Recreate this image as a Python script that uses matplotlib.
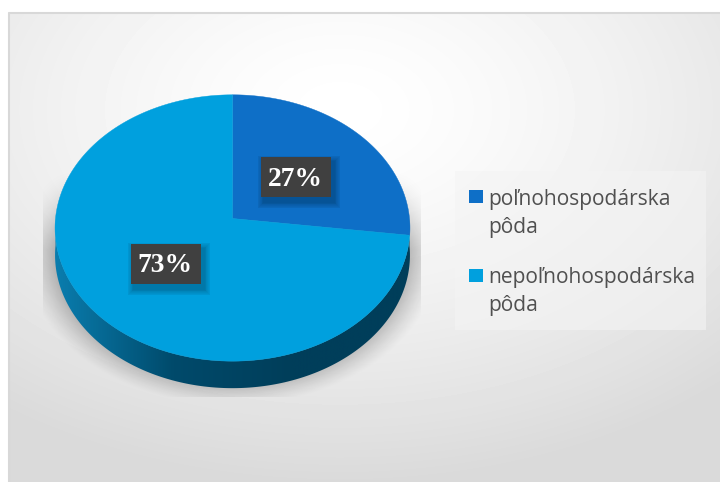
import numpy as np
import matplotlib
matplotlib.use("Agg")
import matplotlib.pyplot as plt
from matplotlib.patches import Polygon, Rectangle
from matplotlib.colors import LinearSegmentedColormap

# Donnees
categories = ["poľnohospodárska\npôda", "nepoľnohospodárska\npôda"]
parts = [27, 73]
couleurs = ["#0E6FC7", "#00A0DE"]
etiquettes = ["27%", "73%"]

# Geometrie de la tarte (pixels)
cx, cy = 232.5, 218.5
sx, sy = 177, 132.5
k = 0.0712
prof = 27


def projection(theta):
    # theta en degres, sens horaire depuis le haut, avec perspective
    t = np.radians(theta)
    w = 1 + k * np.cos(t)
    return cx + sx * np.sin(t) / w, cy - sy * np.cos(t) / w


fig = plt.figure(figsize=(7.2, 4.82), dpi=100)
ax = fig.add_axes([0, 0, 1, 1])
ax.set_xlim(0, 720)
ax.set_ylim(482, 0)
ax.axis("off")

# Fond degrade
X, Y = np.meshgrid(np.arange(720) + 0.5, np.arange(482) + 0.5)
d = np.sqrt(((X - 340) / 560) ** 2 + ((Y - 110) / 370) ** 2)
fond = 1 - 0.145 * np.clip(d, 0, 1) ** 1.4
ax.imshow(fond, extent=(0, 720, 482, 0), cmap="gray", vmin=0, vmax=1, zorder=0, aspect="auto")
ax.add_patch(Rectangle((0, 0), 720, 12, fc="white", ec="none", zorder=1))
ax.add_patch(Rectangle((0, 0), 8, 482, fc="white", ec="none", zorder=1))
ax.plot([9, 9, 720], [482, 12.5, 12.5], color="#D8D8D8", lw=1.5, zorder=1)

# Ombre sous la tarte
r = np.sqrt(((X - 232) / 210) ** 2 + ((Y - 250) / 156) ** 2)
alpha = 0.34 * np.clip((1.0 - r) / 0.2, 0, 1) ** 1.3
alpha = alpha * np.clip((Y - 170) / 80, 0, 1)
alpha[(X < 43) | (X > 421) | (Y > 397)] = 0
ombre = np.zeros((482, 720, 4))
ombre[..., 3] = alpha
ax.imshow(ombre, extent=(0, 720, 482, 0), zorder=2, aspect="auto")

# Cote de la tarte
angles = np.linspace(90, 270, 200)
bx, by = projection(angles)
contour = np.column_stack([np.r_[bx, bx[::-1]], np.r_[by + prof, by[::-1]]])
cmap_cote = LinearSegmentedColormap.from_list("cote", ["#0A7DAE", "#004A6B", "#003E5A", "#003E5A"])
grad = np.clip((np.linspace(55, 410, 400) - 55) / 355, 0, 1)[None, :]
im = ax.imshow(grad, extent=(55, 410, 400, 200), cmap=cmap_cote, zorder=3, aspect="auto")
cote = Polygon(contour, closed=True, fc="none", ec="none", zorder=3)
ax.add_patch(cote)
im.set_clip_path(cote)
ax.set_xlim(0, 720)
ax.set_ylim(482, 0)

# Parts
debut = 0
for part, coul in zip(parts, couleurs):
    fin = debut + 360 * part / sum(parts)
    a = np.linspace(debut, fin, 300)
    px, py = projection(a)
    ax.fill(np.r_[cx, px], np.r_[cy, py], color=coul, lw=0.3, zorder=4)
    debut = fin

# Etiquettes
pos_etiquettes = [(296, 177), (166, 264)]
for txt, (x, y) in zip(etiquettes, pos_etiquettes):
    for i in range(8, 0, -1):
        ax.add_patch(Rectangle((x - 35 + 3 - i * 0.8, y - 20 + 5 - i * 0.8), 70 + i * 1.6, 40 + i * 1.6,
                               fc="black", ec="none", alpha=0.03, zorder=5))
    ax.add_patch(Rectangle((x - 35, y - 20), 70, 40, fc="#404040", ec="none", zorder=6))
    ax.text(x - 1, y + 2, txt, color="white", fontsize=19.8, fontweight="bold", family="Liberation Serif",
            ha="center", va="center", zorder=7)

# Legende
ax.add_patch(Rectangle((455, 171), 251, 159, fc="#F4F4F4", ec="none", alpha=0.6, zorder=3))
pos_legende = [190, 269]
for cat, coul, y in zip(categories, couleurs, pos_legende):
    ax.add_patch(Rectangle((469, y), 14, 13, fc=coul, ec="none", zorder=4))
    l1, l2 = cat.split("\n")
    ax.text(488, y + 9, l1, color="#505050", fontsize=15.1, family="Open Sans", va="center", zorder=4)
    ax.text(488, y + 37, l2, color="#505050", fontsize=15.1, family="Open Sans", va="center", zorder=4)

fig.savefig("out.png", dpi=100)
